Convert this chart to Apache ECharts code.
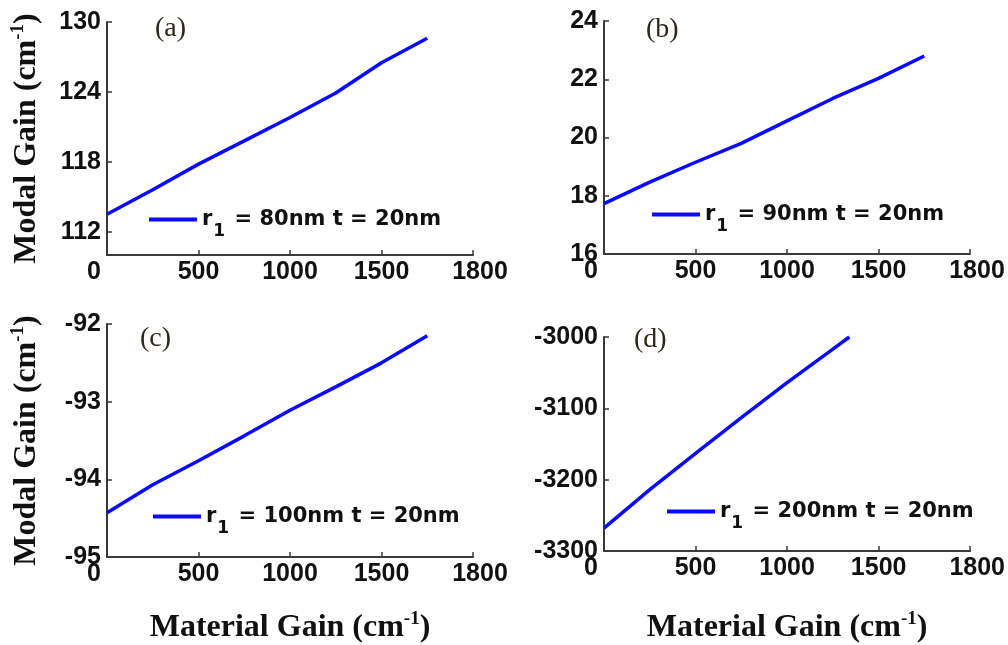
<!DOCTYPE html>
<html>
<head>
<meta charset="utf-8">
<script src="https://cdn.jsdelivr.net/npm/echarts@6/dist/echarts.min.js"></script>
<style>
  html, body { margin: 0; padding: 0; background: #ffffff; }
  #chart { width: 1008px; height: 645px; }
</style>
</head>
<body>
<div id="chart"></div>
<script>
// Material gain (cm^-1) sample points and modal gain (cm^-1) for each core radius
const gainX = [0, 250, 500, 750, 1000, 1250, 1500, 1750];
const modalA = [113.5, 115.6, 117.8, 119.8, 121.8, 123.9, 126.5, 128.6];
const modalB = [17.73, 18.47, 19.15, 19.80, 20.57, 21.34, 22.03, 22.80];
const modalC = [-94.43, -94.07, -93.76, -93.44, -93.11, -92.81, -92.50, -92.15];
const gainXD = [0, 250, 500, 750, 1000, 1250, 1340];
const modalD = [-3268, -3214, -3163, -3113, -3064, -3017, -3000];

// Axis tick labels
const xTickValues = [0, 500, 1000, 1500, 2000];
const xTickLabels = ['0', '500', '1000', '1500', '1800'];
const yTicksA = [112, 118, 124, 130];

// Legend entries and panel tags
const radii = ['80', '90', '100', '200'];
const panelTags = ['(a)', '(b)', '(c)', '(d)'];

const BLUE = '#0a0aff';
const AXIS = '#3a3a3a';
const sansBold = { fontFamily: 'Liberation Sans, Arial, sans-serif', fontWeight: 'bold', fontSize: 25, color: '#111' };
const serifTitle = {
  t: { fontFamily: 'Liberation Serif, Times New Roman, serif', fontWeight: 'bold', fontSize: 32, color: '#111' },
  sup: { fontFamily: 'Liberation Serif, Times New Roman, serif', fontWeight: 'bold', fontSize: 19, color: '#111', padding: [0, 0, 16, 0] }
};
const titleText = (w) => '{t|' + w + ' Gain (cm}{sup|-1}{t|)}';

const grids = [
  { left: 107, top: 22, width: 366, height: 233 },
  { left: 604, top: 21, width: 366, height: 233 },
  { left: 107, top: 324, width: 366, height: 233 },
  { left: 604, top: 337, width: 371, height: 214 }
];

const yRanges = [
  { min: 110, max: 130, interval: 2 },
  { min: 16, max: 24, interval: 2 },
  { min: -95, max: -92, interval: 1 },
  { min: -3300, max: -3000, interval: 100 }
];

function xAxisFor(i) {
  const ax = {
    type: 'value', gridIndex: i, min: 0, max: 2000, interval: 500,
    axisLine: { show: true, lineStyle: { color: AXIS, width: 2 } },
    axisTick: { show: true, inside: true, length: 5, lineStyle: { color: AXIS, width: 1.5 } },
    splitLine: { show: false },
    axisLabel: {
      margin: 5,
      ...sansBold,
      formatter: (v) => {
        const k = xTickValues.indexOf(v);
        const s = k >= 0 ? xTickLabels[k] : '';
        if (v === 0) return '{z|' + s + '}';
        if (v === 2000) return '{e|' + s + '}';
        return s;
      },
      rich: {
        z: { ...sansBold, padding: [0, 26, 0, 0] },
        e: { ...sansBold, padding: [0, 0, 0, 14] }
      }
    }
  };
  if (i >= 2) {
    ax.name = titleText('Material');
    ax.nameLocation = 'middle';
    ax.nameGap = i === 2 ? 53 : 59;
    ax.nameTextStyle = { rich: serifTitle };
  }
  return ax;
}

function yAxisFor(i) {
  const r = yRanges[i];
  const ax = {
    type: 'value', gridIndex: i, min: r.min, max: r.max, interval: r.interval,
    axisLine: { show: true, lineStyle: { color: AXIS, width: 2 } },
    axisTick: { show: true, inside: true, length: 5, lineStyle: { color: AXIS, width: 1.5 } },
    splitLine: { show: false },
    axisLabel: { margin: 6, ...sansBold, formatter: (v) => String(v) }
  };
  if (i === 0) {
    ax.axisLabel.customValues = yTicksA;
    ax.axisTick.customValues = yTicksA;
  }
  if (i === 0 || i === 2) {
    ax.name = titleText('Modal');
    ax.nameLocation = 'middle';
    ax.nameGap = 63;
    ax.nameTextStyle = { rich: serifTitle };
  }
  return ax;
}

const seriesData = [
  gainX.map((x, k) => [x, modalA[k]]),
  gainX.map((x, k) => [x, modalB[k]]),
  gainX.map((x, k) => [x, modalC[k]]),
  gainXD.map((x, k) => [x, modalD[k]])
];

const names = radii.map(r => 'r1 = ' + r + 'nm t = 20nm');

const legendPos = [
  { left: 149, top: 209 },
  { left: 652, top: 204 },
  { left: 153, top: 506 },
  { left: 667, top: 501 }
];

const legendText = {
  fontFamily: 'DejaVu Sans, sans-serif', fontWeight: 'bold', fontSize: 21, color: '#111'
};

const tagPos = [
  { x: 155, y: 29 },
  { x: 646, y: 30 },
  { x: 140, y: 339 },
  { x: 634, y: 340 }
];

const option = {
  backgroundColor: '#ffffff',
  animation: false,
  grid: grids,
  xAxis: [0, 1, 2, 3].map(xAxisFor),
  yAxis: [0, 1, 2, 3].map(yAxisFor),
  legend: names.map((n, i) => ({
    data: [n],
    left: legendPos[i].left,
    top: legendPos[i].top,
    padding: 0,
    icon: 'rect',
    itemWidth: 48,
    itemHeight: 4,
    itemGap: 7,
    selectedMode: false,
    formatter: () => '{m|r}{s|1}{m| = ' + radii[i] + 'nm t = 20nm}',
    textStyle: {
      ...legendText,
      rich: {
        m: { ...legendText },
        s: { ...legendText, fontSize: 17, padding: [24, 2, 0, 1] }
      }
    }
  })),
  graphic: panelTags.map((t, i) => ({
    type: 'text',
    left: tagPos[i].x,
    top: tagPos[i].y - 14,
    style: {
      text: t,
      font: '28px "Liberation Serif", "Times New Roman", serif',
      fill: '#2e2618'
    }
  })),
  series: seriesData.map((d, i) => ({
    type: 'line',
    name: names[i],
    xAxisIndex: i,
    yAxisIndex: i,
    data: d,
    showSymbol: false,
    symbol: 'none',
    smooth: false,
    itemStyle: { color: BLUE },
    lineStyle: { color: BLUE, width: 3.5 }
  }))
};

const chart = echarts.init(document.getElementById('chart'), null, { renderer: 'canvas' });
chart.setOption(option);
</script>
</body>
</html>
